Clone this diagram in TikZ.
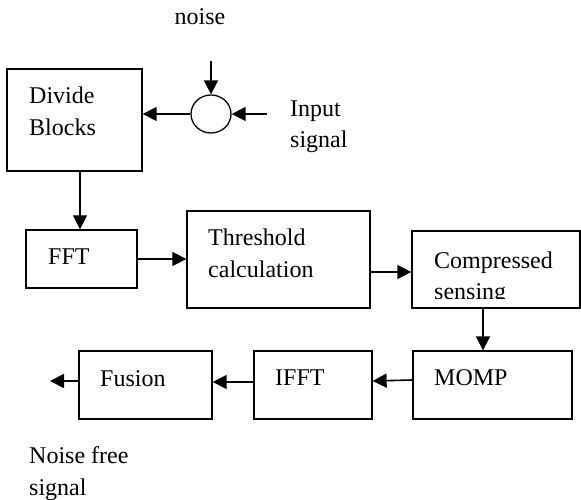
\documentclass[tikz,border=0pt]{standalone}
\usepackage{fontspec}
\setmainfont{Liberation Serif}
\usetikzlibrary{arrows.meta,shapes.geometric,calc}
\begin{document}
\begin{tikzpicture}[x=1pt,y=-1pt,
  box/.style={draw,line width=1.3pt,rectangle,inner sep=0pt},
  lbl/.style={anchor=base west,inner sep=0pt,font=\fontsize{24}{30}\selectfont},
  arr/.style={line width=1.6pt,-{Triangle[length=14pt,width=14pt]}}]
\useasboundingbox (0,0) rectangle (581,500);
% boxes
\node[box,minimum width=135,minimum height=102] (div) at (74.5,120) {};
\node[draw,line width=1.3pt,ellipse,minimum width=40,minimum height=38,inner sep=0pt] (sum) at (211,114) {};
\node[box,minimum width=111,minimum height=58] (fft) at (81.5,259) {};
\node[box,minimum width=183,minimum height=97] (thr) at (278.5,259.5) {};
\node[box,minimum width=168,minimum height=77] (cmp) at (496,269.5) {};
\node[box,minimum width=159,minimum height=68] (momp) at (492.5,385) {};
\node[box,minimum width=118,minimum height=68] (ifft) at (313,385) {};
\node[box,minimum width=133,minimum height=68] (fus) at (145.5,385) {};
% free ends
\coordinate (noisein) at (211,61);
\coordinate (sigin) at (267,114);
\coordinate (out) at (50,381);
% texts
\node[lbl,anchor=base] (tnoise) at (200,25) {noise};
\node[lbl] (tin1) at (290,117) {Input};
\node[lbl] (tin2) at (290,147) {signal};
\node[lbl] (tdiv1) at (29,104) {Divide};
\node[lbl] (tdiv2) at (29,136) {Blocks};
\node[lbl] (tfft) at (48,264) {FFT};
\node[lbl] (tthr1) at (208,245) {Threshold};
\node[lbl] (tthr2) at (208,277) {calculation};
\node[lbl] (tcmp1) at (434,268) {Compressed};
\begin{scope}
  \clip (412,231) rectangle (580,298);
  \node[lbl] (tcmp2) at (434,299) {sensing};
\end{scope}
\node[lbl] (tmomp) at (434,385) {MOMP};
\node[lbl] (tifft) at (275,385) {IFFT};
\node[lbl] (tfus) at (100,386) {Fusion};
\node[lbl] (tnf1) at (29,463) {Noise free};
\node[lbl] (tnf2) at (29,495) {signal};
% connectors
\draw[arr] (noisein) -- (sum.north);
\draw[arr] (sigin) -- (sum.east);
\draw[arr] (sum.west) -- (sum.west -| div.east);
\draw[arr] ($(div.south)+(5.5,0)$) -- ($(fft.north)+(-1.5,0)$);
\draw[arr] (fft.east) -- (fft.east -| thr.west);
\draw[arr] (thr.east |- 0,272) -- (cmp.west |- 0,272);
\draw[arr] ($(cmp.south)+(-13,0)$) -- ($(momp.north)+(-9.5,0)$);
\draw[arr] (momp.west |- 0,380) -- (ifft.east |- 0,381);
\draw[arr] (ifft.west |- 0,382) -- (fus.east |- 0,382);
\draw[arr] (fus.west |- out) -- (out);
\end{tikzpicture}
\end{document}
